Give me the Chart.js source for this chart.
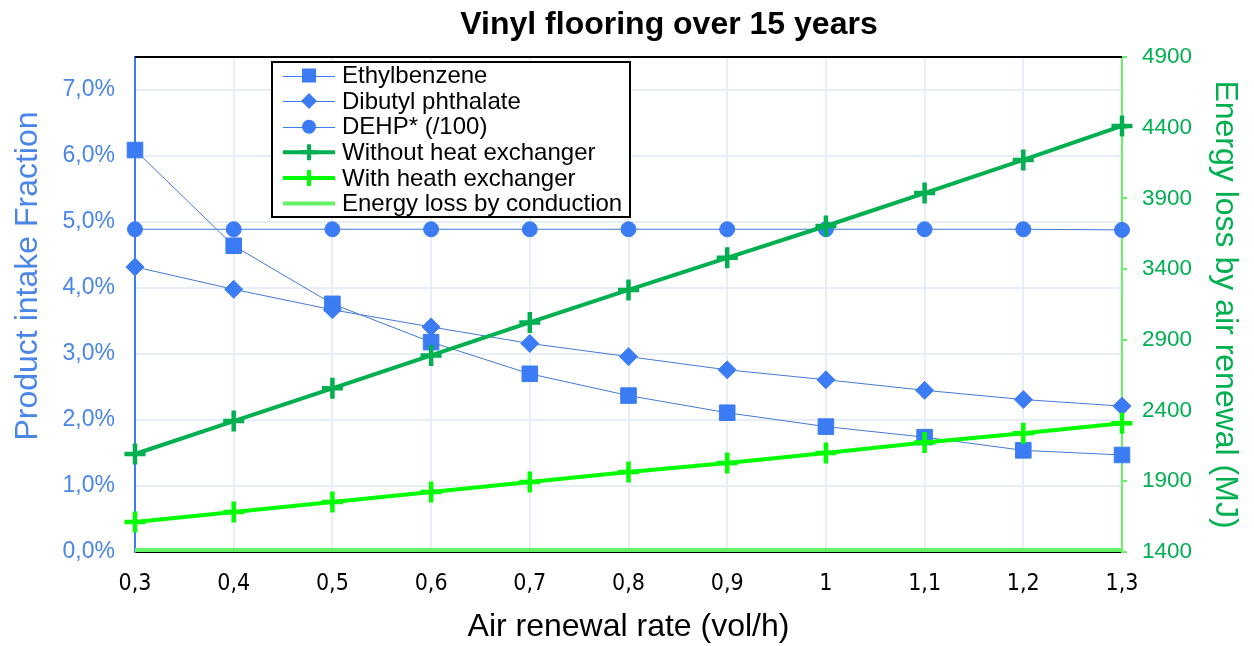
<!DOCTYPE html>
<html>
<head>
<meta charset="utf-8">
<script src="https://cdn.jsdelivr.net/npm/chart.js@4"></script>
<style>
html,body{margin:0;padding:0;background:#fff;}
#wrap{width:1254px;height:646px;position:relative;}
</style>
</head>
<body>
<div id="wrap"><canvas id="c" width="1254" height="646"></canvas></div>
<script>
const categories = ["0,3","0,4","0,5","0,6","0,7","0,8","0,9","1","1,1","1,2","1,3"];
const ethylbenzene = [0.0609,0.0464,0.0376,0.0318,0.0270,0.0237,0.0211,0.0190,0.0174,0.0154,0.0147];
const dibutylPhthalate = [0.0432,0.0398,0.0367,0.0341,0.0316,0.0296,0.0276,0.0261,0.0245,0.0231,0.0221];
const dehp = [0.0489,0.0489,0.0489,0.0489,0.0489,0.0489,0.0489,0.0489,0.0489,0.0489,0.0488];
const withoutHX = [2093,2326,2557,2790,3023,3253,3480,3705,3938,4172,4413];
const withHX = [1612,1683,1754,1824,1895,1966,2030,2100,2174,2240,2310];
const conduction = [1415,1415,1415,1415,1415,1415,1415,1415,1415,1415,1415];
const leftTicks = [0,0.01,0.02,0.03,0.04,0.05,0.06,0.07];
const rightTicks = [1400,1900,2400,2900,3400,3900,4400,4900];
const chartTitle = 'Vinyl flooring over 15 years';
const leftTitle = 'Product intake Fraction';

const FONT = "'Liberation Sans', Arial, sans-serif";
const NARROW = "'Liberation Sans Narrow', 'Arial Narrow', 'DejaVu Sans Condensed', sans-serif";
const BLUE = '#3b7cf4';
const BLUE_LINE = '#4479d6';
const BLUE_TEXT = '#4a86e8';
const DKGREEN = '#00b050';
const GREEN = '#00ff00';
const LTGREEN = '#66f266';

const legendItems = [
  {label:'Ethylbenzene', color:BLUE, lineColor:BLUE, lw:1, marker:'square'},
  {label:'Dibutyl phthalate', color:BLUE, lineColor:BLUE, lw:1, marker:'diamond'},
  {label:'DEHP* (/100)', color:BLUE, lineColor:BLUE, lw:1, marker:'circle'},
  {label:'Without heat exchanger', color:DKGREEN, lineColor:DKGREEN, lw:4, marker:'cross'},
  {label:'With heath exchanger', color:GREEN, lineColor:GREEN, lw:4, marker:'cross'},
  {label:'Energy loss by conduction', color:LTGREEN, lineColor:LTGREEN, lw:4, marker:null}
];

const customLegend = {
  id:'customLegend',
  afterDraw(chart){
    const ctx = chart.ctx;
    const ca = chart.chartArea;
    ctx.save();
    // chart title
    ctx.fillStyle = '#000';
    ctx.font = 'bold 32px ' + FONT;
    ctx.textAlign = 'center'; ctx.textBaseline = 'alphabetic';
    ctx.fillText(chartTitle, 669, 33.5);
    // left axis title
    ctx.save();
    ctx.translate(37, 276);
    ctx.rotate(-Math.PI / 2);
    ctx.fillStyle = BLUE_TEXT;
    ctx.font = '32px ' + FONT;
    ctx.textAlign = 'center'; ctx.textBaseline = 'alphabetic';
    ctx.fillText(leftTitle, 0, 0);
    ctx.restore();
    // top border of plot
    ctx.strokeStyle = '#000'; ctx.lineWidth = 2;
    ctx.beginPath(); ctx.moveTo(ca.left, ca.top); ctx.lineTo(ca.right, ca.top); ctx.stroke();
    // legend box
    const x0 = 272, y0 = 62, w = 358, h = 155;
    ctx.fillStyle = '#fff';
    ctx.fillRect(x0, y0, w, h);
    ctx.strokeStyle = '#000'; ctx.lineWidth = 2;
    ctx.strokeRect(x0, y0, w, h);
    legendItems.forEach((it, i) => {
      const cy = 75.5 + i * 25.6;
      const lineY = it.lw === 1 ? Math.round(cy) + 0.5 : cy;
      const lx1 = 283, lx2 = 335, mx = 309;
      ctx.strokeStyle = it.lineColor; ctx.lineWidth = it.lw;
      ctx.beginPath(); ctx.moveTo(lx1, lineY); ctx.lineTo(lx2, lineY); ctx.stroke();
      ctx.fillStyle = it.color;
      if (it.marker === 'square') {
        ctx.fillRect(mx - 7, cy - 7, 14, 14);
      } else if (it.marker === 'diamond') {
        ctx.beginPath(); ctx.moveTo(mx, cy - 8); ctx.lineTo(mx + 8, cy); ctx.lineTo(mx, cy + 8); ctx.lineTo(mx - 8, cy); ctx.closePath(); ctx.fill();
      } else if (it.marker === 'circle') {
        ctx.beginPath(); ctx.arc(mx, cy, 7, 0, Math.PI * 2); ctx.fill();
      } else if (it.marker === 'cross') {
        ctx.strokeStyle = it.color; ctx.lineWidth = 4;
        ctx.beginPath(); ctx.moveTo(mx - 8, cy); ctx.lineTo(mx + 8, cy); ctx.moveTo(mx, cy - 8); ctx.lineTo(mx, cy + 8); ctx.stroke();
      }
      ctx.fillStyle = '#000';
      ctx.font = '24px ' + FONT;
      ctx.textBaseline = 'middle';
      ctx.textAlign = 'left';
      ctx.fillText(it.label, 342, cy + 1);
    });
    ctx.restore();
  }
};

const blueCommon = {
  yAxisID:'y', borderColor:BLUE_LINE, borderWidth:1, backgroundColor:BLUE,
  pointBackgroundColor:BLUE, pointBorderColor:BLUE, pointBorderWidth:1,
  clip:false, order:1, tension:0
};
const greenCommon = {yAxisID:'y2', clip:false, order:0, tension:0};

new Chart(document.getElementById('c'), {
  type:'line',
  data:{
    labels:categories,
    datasets:[
      Object.assign({label:'Ethylbenzene', data:ethylbenzene, pointStyle:'rect', pointRadius:11}, blueCommon),
      Object.assign({label:'Dibutyl phthalate', data:dibutylPhthalate, pointStyle:'rectRot', pointRadius:9}, blueCommon),
      Object.assign({label:'DEHP* (/100)', data:dehp, pointStyle:'circle', pointRadius:7.5}, blueCommon),
      Object.assign({label:'Without heat exchanger', data:withoutHX, borderColor:DKGREEN, borderWidth:4,
        pointStyle:'cross', pointRadius:10.5, pointBorderColor:DKGREEN, pointBorderWidth:4.5, backgroundColor:DKGREEN}, greenCommon),
      Object.assign({label:'With heath exchanger', data:withHX, borderColor:GREEN, borderWidth:4,
        pointStyle:'cross', pointRadius:10.5, pointBorderColor:GREEN, pointBorderWidth:4.5, backgroundColor:GREEN}, greenCommon),
      Object.assign({label:'Energy loss by conduction', data:conduction, borderColor:LTGREEN, borderWidth:4,
        pointRadius:0, backgroundColor:LTGREEN}, greenCommon)
    ]
  },
  options:{
    responsive:false, animation:false,
    layout:{padding:{top:57, left:0, right:0, bottom:0}},
    plugins:{
      legend:{display:false}, tooltip:{enabled:false}, title:{display:false}
    },
    scales:{
      x:{
        type:'category', offset:false,
        grid:{color:'#e8eef7', lineWidth:2, drawTicks:false},
        border:{color:'#000', width:2},
        ticks:{color:'#000', font:{family:NARROW, size:23}, padding:18, maxRotation:0, autoSkip:false},
        title:{display:true, text:'Air renewal rate (vol/h)', color:'#000', font:{family:FONT, size:32, lineHeight:1.2}, padding:{top:0, bottom:0}},
        afterFit(s){ s.height = 94; }
      },
      y:{
        position:'left', min:0, max:0.075,
        afterBuildTicks(s){ s.ticks = leftTicks.map(v => ({value:v})); },
        grid:{color:'#e8eef7', lineWidth:2, drawTicks:false},
        border:{color:BLUE, width:2},
        ticks:{color:BLUE_TEXT, font:{family:FONT, size:23}, padding:20,
          callback:(v) => (v * 100).toFixed(1).replace('.', ',') + '%'},
        title:{display:false},
        afterFit(s){ s.width = 135; }
      },
      y2:{
        position:'right', min:1400, max:4900,
        afterBuildTicks(s){ s.ticks = rightTicks.map(v => ({value:v})); },
        grid:{drawOnChartArea:false, drawTicks:true, tickLength:5, color:LTGREEN, lineWidth:2},
        border:{color:LTGREEN, width:2},
        ticks:{color:DKGREEN, font:{family:FONT, size:22.5}, padding:15, callback:(v) => String(v)},
        title:{display:true, text:'Energy loss by air renewal (MJ)', color:DKGREEN, font:{family:FONT, size:32, lineHeight:1.2}, padding:{top:10, bottom:0}},
        afterFit(s){ s.width = 132; }
      }
    }
  },
  plugins:[customLegend]
});
</script>
</body>
</html>
